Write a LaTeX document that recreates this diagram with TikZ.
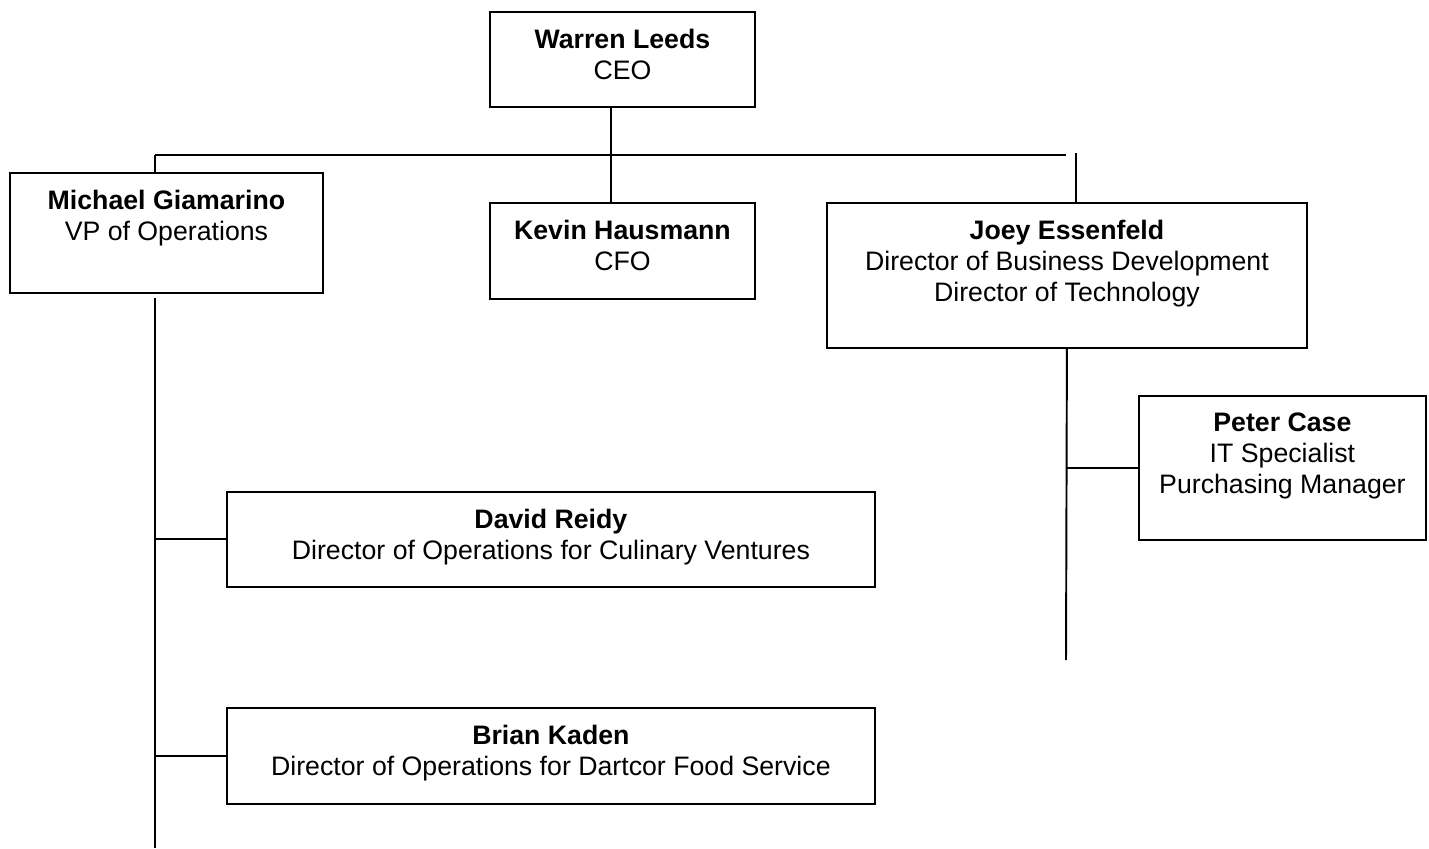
\documentclass[tikz,border=0pt]{standalone}
\usepackage{fontspec}
\setmainfont{Liberation Sans}
\usetikzlibrary{positioning, calc}

\newcommand{\orgfont}{\fontsize{15.2}{17.6}\selectfont}

\tikzset{
  orgbox/.style={draw, line width=1.1pt, anchor=north west, inner sep=0pt},
  orgtext/.style={align=center, anchor=north, inner sep=0pt, font=\orgfont},
  orgline/.style={line width=1.1pt}
}

\begin{document}
\begin{tikzpicture}[x=0.02cm, y=-0.02cm]
  \useasboundingbox (0,0) rectangle (1429,848);

  % Boxes (top left corner, size)
  \node[orgbox, minimum width=5.3cm, minimum height=1.9cm] (ceo) at (489,11) {};
  \node[orgbox, minimum width=6.26cm, minimum height=2.4cm] (mike) at (9,172) {};
  \node[orgbox, minimum width=5.3cm, minimum height=1.92cm] (kevin) at (489,202) {};
  \node[orgbox, minimum width=9.6cm, minimum height=2.9cm] (joey) at (826,202) {};
  \node[orgbox, minimum width=5.74cm, minimum height=2.88cm] (peter) at (1138,395) {};
  \node[orgbox, minimum width=12.96cm, minimum height=1.9cm] (david) at (226,491) {};
  \node[orgbox, minimum width=12.96cm, minimum height=1.92cm] (brian) at (226,707) {};

  % Names and titles
  \node[orgtext] (ceotxt) at ([yshift=-0.35cm]ceo.north) {\textbf{Warren Leeds}\\CEO};
  \node[orgtext] (miketxt) at ([yshift=-0.35cm]mike.north) {\textbf{Michael Giamarino}\\VP of Operations};
  \node[orgtext] (kevintxt) at ([yshift=-0.35cm]kevin.north) {\textbf{Kevin Hausmann}\\CFO};
  \node[orgtext] (joeytxt) at ([yshift=-0.35cm]joey.north)
    {\textbf{Joey Essenfeld}\\Director of Business Development\\Director of Technology};
  \node[orgtext] (petertxt) at ([yshift=-0.35cm]peter.north)
    {\textbf{Peter Case}\\IT Specialist\\Purchasing Manager};
  \node[orgtext] (davidtxt) at ([yshift=-0.35cm]david.north)
    {\textbf{David Reidy}\\Director of Operations for Culinary Ventures};
  \node[orgtext] (briantxt) at ([yshift=-0.35cm]brian.north)
    {\textbf{Brian Kaden}\\Director of Operations for Dartcor Food Service};

  % Bus and branch points
  \coordinate (busL) at (155,155);
  \coordinate (busR) at (1066,155);
  \coordinate (joeyTop) at (1076,153);
  \coordinate (mikeLine) at (155,298);
  \coordinate (mikeEnd) at (155,848);
  \coordinate (joeyEnd) at (1066,660);

  \draw[orgline] ([xshift=-0.23cm]ceo.south) -- ([xshift=-0.23cm]kevin.north);
  \draw[orgline] (busL) -- (busR);
  \draw[orgline] (busL) -- (busL |- mike.north);
  \draw[orgline] (joeyTop) -- (joeyTop |- joey.north);

  % VP of Operations reports
  \draw[orgline] (mikeLine) -- (mikeEnd);
  \draw[orgline] (mikeLine |- david.west) -- (david.west);
  \draw[orgline] (mikeLine |- brian.west) -- (brian.west);

  % Business Development reports
  \draw[orgline] (joey.south) -- (joeyEnd);
  \draw[orgline] (joeyEnd |- peter.west) -- (peter.west);
\end{tikzpicture}
\end{document}
